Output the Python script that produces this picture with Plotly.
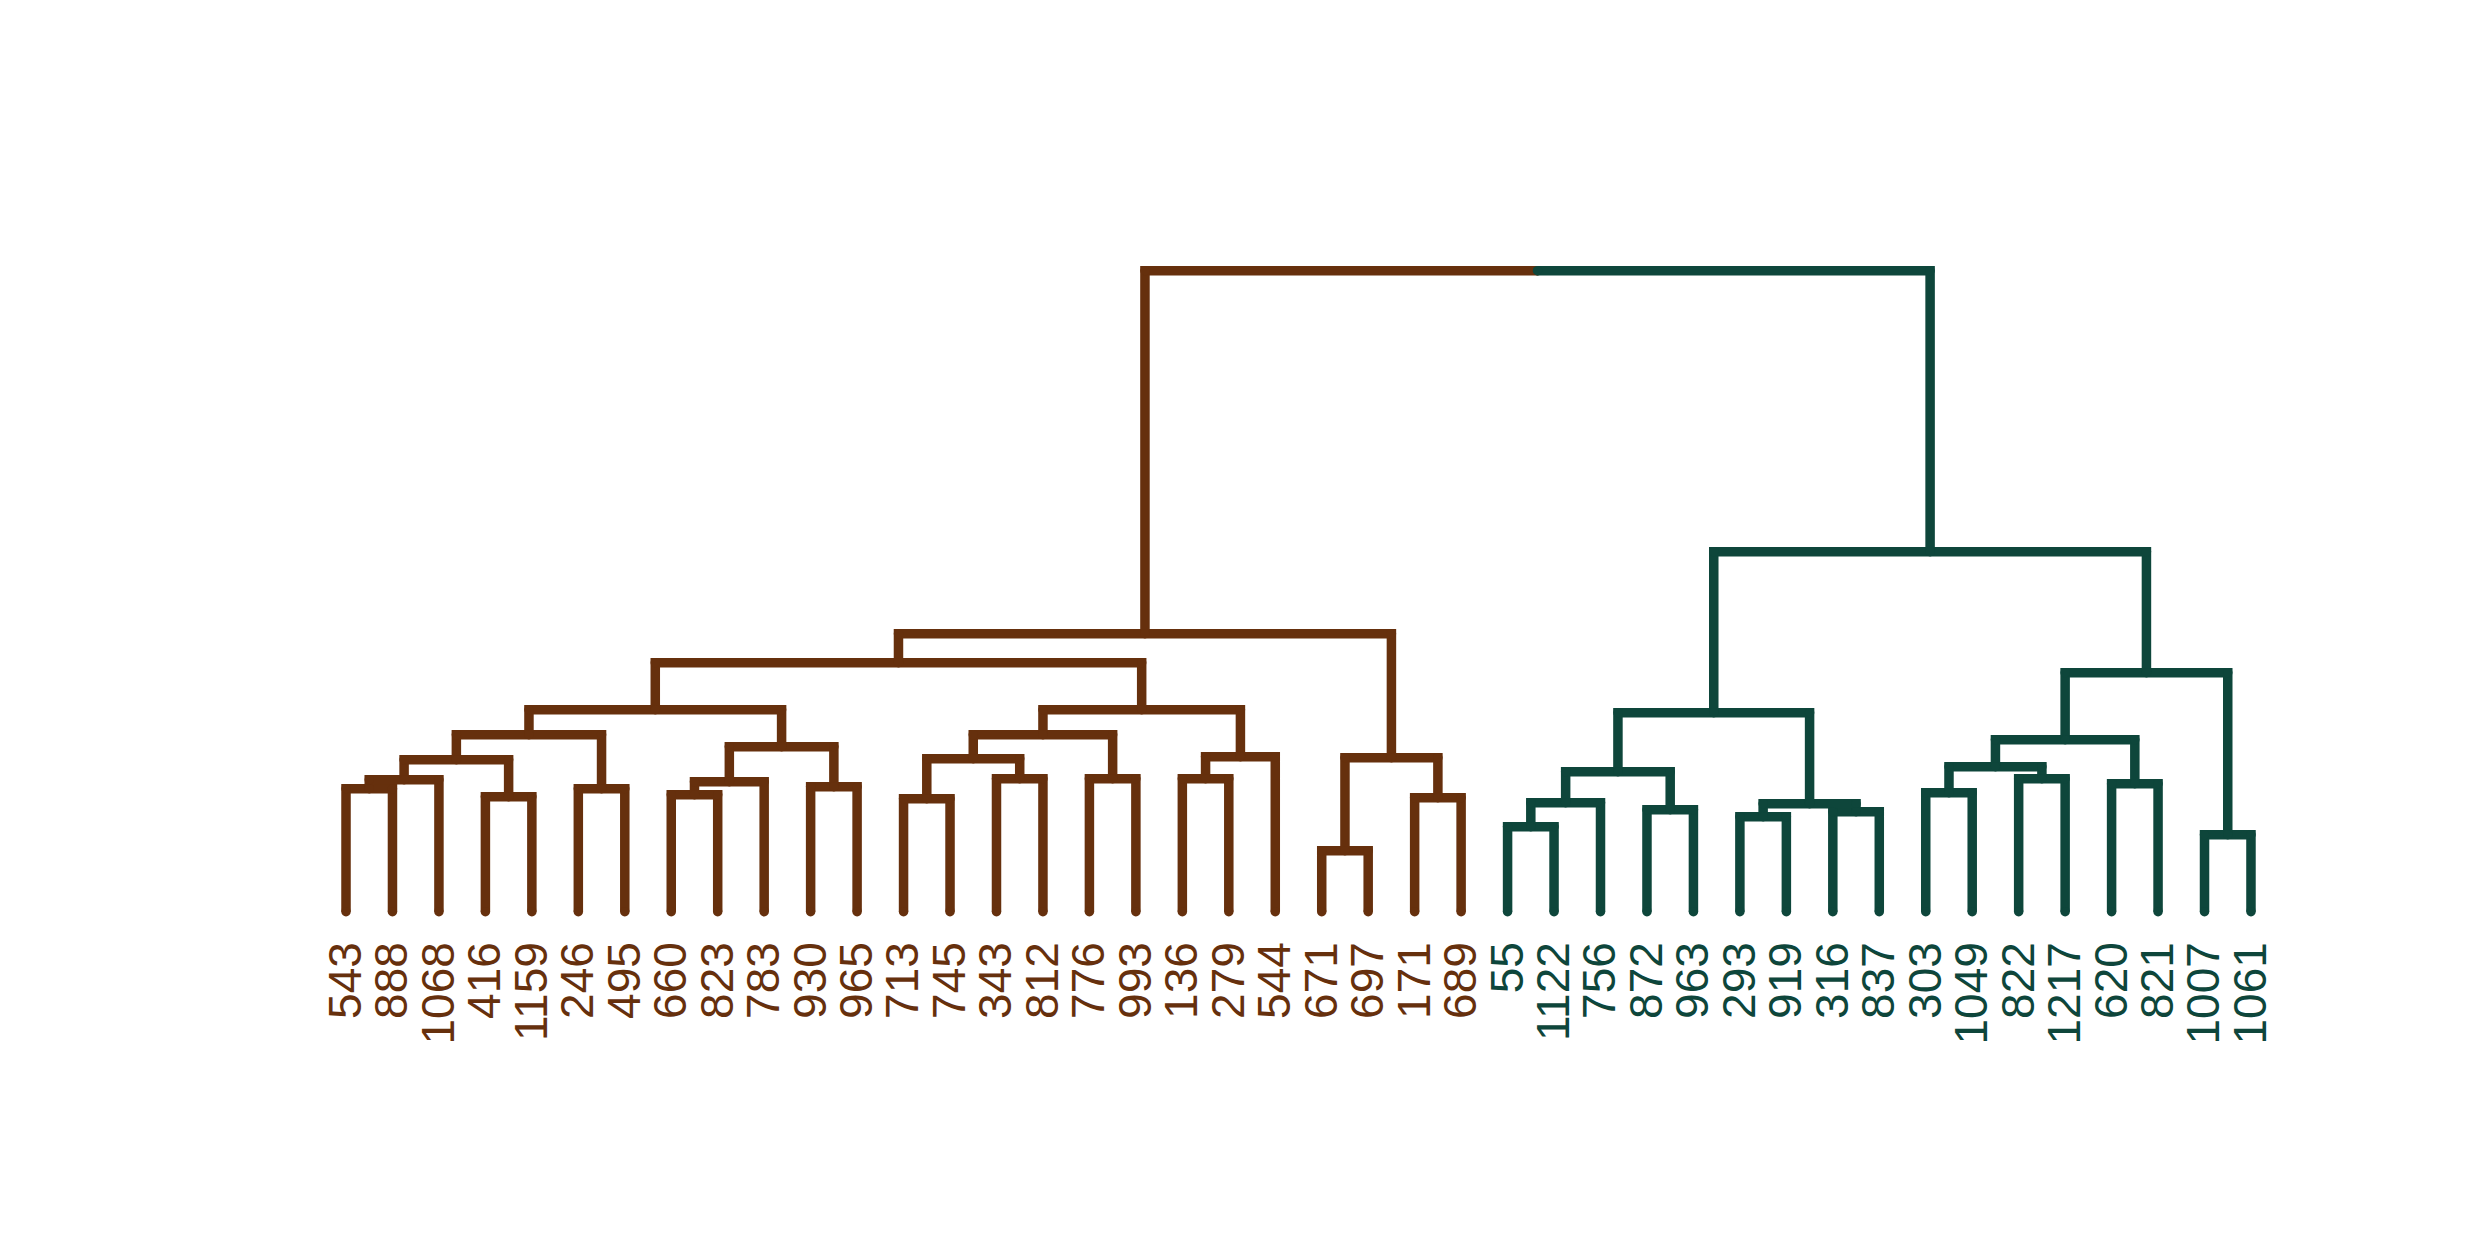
import plotly.graph_objects as go

# ---- data ----
brown_leaves = ["543", "888", "1068", "416", "1159", "246", "495", "660", "823", "783",
                "930", "965", "713", "745", "343", "812", "776", "993", "136", "279",
                "544", "671", "697", "171", "689"]
teal_leaves = ["55", "1122", "756", "872", "963", "293", "919", "316", "837", "303",
               "1049", "822", "1217", "620", "821", "1007", "1061"]

# merges: (node name, left child, right child, height)
brown_merges = [
    ("b1", "543", "888", 1.23),
    ("b2", "b1", "1068", 1.32),
    ("b3", "416", "1159", 1.15),
    ("b4", "b2", "b3", 1.52),
    ("b5", "246", "495", 1.23),
    ("b6", "b4", "b5", 1.77),
    ("b7", "660", "823", 1.17),
    ("b8", "b7", "783", 1.30),
    ("b9", "930", "965", 1.25),
    ("b10", "b8", "b9", 1.65),
    ("b11", "b6", "b10", 2.02),
    ("b12", "713", "745", 1.13),
    ("b13", "343", "812", 1.33),
    ("b14", "b12", "b13", 1.53),
    ("b15", "776", "993", 1.33),
    ("b16", "b14", "b15", 1.77),
    ("b17", "136", "279", 1.33),
    ("b18", "b17", "544", 1.55),
    ("b19", "b16", "b18", 2.02),
    ("b20", "b11", "b19", 2.49),
    ("b21", "671", "697", 0.61),
    ("b22", "171", "689", 1.14),
    ("b23", "b21", "b22", 1.54),
    ("b24", "b20", "b23", 2.78),
]
teal_merges = [
    ("t1", "55", "1122", 0.85),
    ("t2", "t1", "756", 1.09),
    ("t3", "872", "963", 1.02),
    ("t4", "t2", "t3", 1.40),
    ("t5", "293", "919", 0.95),
    ("t6", "316", "837", 1.00),
    ("t7", "t5", "t6", 1.08),
    ("t8", "t4", "t7", 1.99),
    ("t9", "303", "1049", 1.19),
    ("t10", "822", "1217", 1.33),
    ("t11", "t9", "t10", 1.45),
    ("t12", "620", "821", 1.28),
    ("t13", "t11", "t12", 1.72),
    ("t14", "1007", "1061", 0.77),
    ("t15", "t13", "t14", 2.39),
    ("t16", "t8", "t15", 3.60),
]
root_merge = ("root", "b24", "t16", 6.41)

brown = "#66300D"
teal = "#0E463B"

# ---- layout of tree ----
leaves = brown_leaves + teal_leaves
pos = {name: float(i) for i, name in enumerate(leaves)}
hgt = {name: 0.0 for name in leaves}


def build(merges):
    xs, ys = [], []
    for name, l, r, h in merges:
        xl, xr = pos[l], pos[r]
        xs += [xl, xl, xr, xr, None]
        ys += [hgt[l], h, h, hgt[r], None]
        pos[name] = (xl + xr) / 2
        hgt[name] = h
    return xs, ys


bx, by = build(brown_merges)
tx, ty = build(teal_merges)

_, rl, rr, rh = root_merge
xl, xr = pos[rl], pos[rr]
xm = (xl + xr) / 2
bx += [xl, xl, xm, None]
by += [hgt[rl], rh, rh, None]
tx += [xm, xr, xr, None]
ty += [rh, rh, hgt[rr], None]

fig = go.Figure()
lw = 9.5
for xs, ys, col in [(bx, by, brown), (tx, ty, teal)]:
    fig.add_trace(go.Scatter(
        x=xs, y=ys, mode="lines+markers",
        line=dict(color=col, width=lw),
        marker=dict(color=col, size=lw, line=dict(width=0)),
        hoverinfo="skip", cliponaxis=False))

ticktext = [f'<span style="color:{brown}">{s}</span>' for s in brown_leaves] + \
           [f'<span style="color:{teal}">{s}</span>' for s in teal_leaves]

fig.update_layout(
    width=2480, height=1240,
    margin=dict(l=0, r=0, t=0, b=308),
    paper_bgcolor="white", plot_bgcolor="white",
    showlegend=False,
    font=dict(family="Liberation Sans, Arial, sans-serif", size=46),
    xaxis=dict(range=[-7.447, 45.929], tickmode="array",
               tickvals=list(range(len(leaves))), ticktext=ticktext,
               tickangle=-90, showgrid=False, zeroline=False, showline=False,
               ticks="", tickfont=dict(size=46)),
    yaxis=dict(range=[-0.203, 9.117], showgrid=False, zeroline=False,
               showline=False, showticklabels=False, ticks=""),
)

fig.write_html("out.html")
